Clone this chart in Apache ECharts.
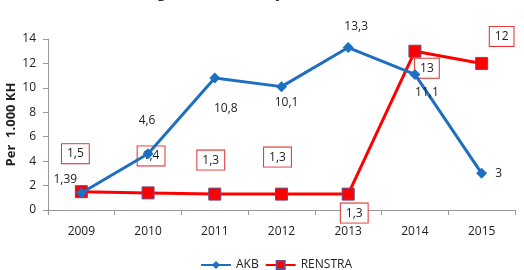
<!DOCTYPE html>
<html>
<head>
<meta charset="utf-8">
<script src="https://cdn.jsdelivr.net/npm/echarts@6/dist/echarts.min.js"></script>
<style>
  html, body { margin: 0; padding: 0; background: #fff; }
  #main { width: 524px; height: 270px; }
</style>
</head>
<body>
<div id="main"></div>
<script>
// data
var years = ['2009', '2010', '2011', '2012', '2013', '2014', '2015'];
var akb = [1.39, 4.6, 10.8, 10.1, 13.3, 11.1, 3];
var renstra = [1.5, 1.4, 1.3, 1.3, 1.3, 13, 12];
var yTicks = [0, 2, 4, 6, 8, 10, 12, 14];

// label offsets (excel labels were moved by hand)
var akbOffset = [[-16, -13], [-1, -33], [11, 30], [5, 16], [8, -21], [12, 18], [17, 0]];
var renstraOffset = [[-6, -38], [3, -37], [-4, -34], [-4, -37], [6, 19], [12, 17], [20, -27]];

function fmt(v) {
  return String(v).replace('.', ',');
}

function buildData(values, offsets, boxed) {
  var out = [];
  for (var i = 0; i < values.length; i++) {
    var lbl = {
      show: true,
      position: 'inside',
      offset: offsets[i],
      formatter: fmt(values[i]),
      color: '#222',
      fontSize: 12,
      fontFamily: 'Open Sans'
    };
    if (boxed) {
      lbl.backgroundColor = '#fff';
      lbl.borderColor = '#e03030';
      lbl.borderWidth = 1;
      lbl.padding = [4, 5, 3, 5];
    }
    out.push({ value: values[i], label: lbl });
  }
  return out;
}

var chart = echarts.init(document.getElementById('main'));
var option = {
  animation: false,
  textStyle: { fontFamily: 'Open Sans' },
  // title is cut off at the top of the picture, only the bottom shows
  graphic: [{
    type: 'text',
    x: 322,
    y: 1,
    style: {
      text: 'Angka Kematian Bayi Per 1.000 KH Tahun 2009 - 2015',
      align: 'center',
      verticalAlign: 'bottom',
      font: 'bold 14px "Open Sans"',
      fill: '#222'
    }
  }],
  legend: {
    top: 254,
    left: 195,
    itemWidth: 30,
    itemHeight: 10,
    itemGap: 6,
    textStyle: { fontSize: 12, color: '#222' },
    data: ['AKB', 'RENSTRA']
  },
  grid: { left: 48, right: 9, top: 39, bottom: 60, containLabel: false, outerBoundsMode: 'none' },
  xAxis: {
    type: 'category',
    data: years,
    boundaryGap: true,
    axisLine: { lineStyle: { color: '#999' } },
    axisTick: { show: true, length: 5, lineStyle: { color: '#999' } },
    axisLabel: { color: '#222', fontSize: 12, margin: 16 }
  },
  yAxis: {
    type: 'value',
    min: yTicks[0],
    max: yTicks[yTicks.length - 1],
    interval: yTicks[1] - yTicks[0],
    name: 'Per  1.000 KH',
    nameLocation: 'middle',
    nameGap: 30,
    nameMoveOverlap: false,
    nameTextStyle: { fontSize: 13, fontWeight: 'bold', color: '#222' },
    splitLine: { show: false },
    axisLine: { show: true, lineStyle: { color: '#999' } },
    axisTick: { show: true, length: 5, lineStyle: { color: '#999' } },
    axisLabel: { color: '#222', fontSize: 12, margin: 12 }
  },
  series: [
    {
      name: 'AKB',
      type: 'line',
      data: buildData(akb, akbOffset, false),
      symbol: 'diamond',
      symbolSize: 11,
      lineStyle: { color: '#1f6fc0', width: 3 },
      itemStyle: { color: '#1f6fc0' },
      z: 3
    },
    {
      name: 'RENSTRA',
      type: 'line',
      data: buildData(renstra, renstraOffset, true),
      symbol: 'rect',
      symbolSize: 12,
      lineStyle: { color: '#ff0000', width: 3 },
      itemStyle: { color: '#ff0000', borderColor: '#6b4a8a', borderWidth: 1 },
      z: 2
    }
  ]
};
chart.setOption(option);
</script>
</body>
</html>
